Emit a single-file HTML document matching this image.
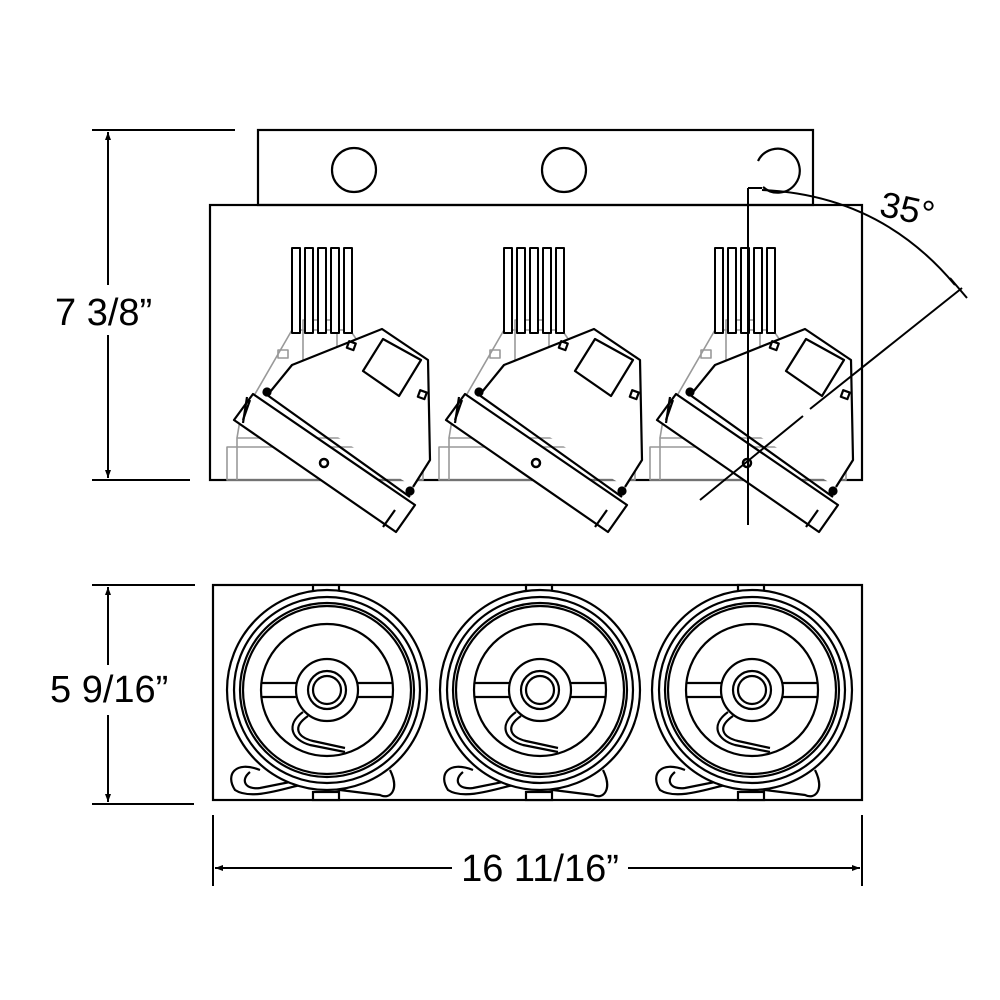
<!DOCTYPE html>
<html><head><style>body{margin:0;background:#fff}svg{display:block}</style></head>
<body>
<svg width="1000" height="1000" viewBox="0 0 1000 1000" xmlns="http://www.w3.org/2000/svg" font-family="Liberation Sans, sans-serif">
<defs>
<g id="fix" fill="none" stroke-linejoin="round">
  <g stroke="#999" stroke-width="1.6">
    <rect x="227" y="447" width="196" height="33"/>
    <line x1="237" y1="447" x2="237" y2="480"/><line x1="413" y1="447" x2="413" y2="480"/>
    <path d="M237 447 L237 438 L413 438 L413 447"/>
    <path d="M237 438 L240 420 L292 330 L350 330 L405 410 L412 438"/>
    <rect x="303" y="320" width="34" height="44"/>
    <rect x="278" y="350" width="10" height="8"/>
    <rect x="363" y="350" width="10" height="8"/>
  </g>
  <g stroke="#000" stroke-width="2" fill="#fff">
    <rect x="292" y="248" width="8" height="85"/>
    <rect x="305" y="248" width="8" height="85"/>
    <rect x="318" y="248" width="8" height="85"/>
    <rect x="331" y="248" width="8" height="85"/>
    <rect x="344" y="248" width="8" height="85"/>
  </g>
  <g stroke="#000" stroke-width="2.2">
    <path d="M270 392 L292 365 L382 329 L428 360 L430 460 L413 487" fill="#fff"/>
    <path d="M363 371 L383 339 L421 360 L399 396 Z"/>
    <rect x="348" y="342" width="7" height="7" transform="rotate(20 351 345)"/>
    <rect x="419" y="391" width="7" height="7" transform="rotate(20 422 394)"/>
    <path d="M253 394 L415 505 L396 532 L234 420 Z" fill="#fff"/>
    <line x1="263" y1="392" x2="410" y2="497"/>
    <line x1="243" y1="423" x2="247" y2="397"/>
    <line x1="250" y1="400" x2="243" y2="420"/>
    <line x1="395" y1="510" x2="383" y2="527" />
    <circle cx="267" cy="392" r="3.5" fill="#000"/>
    <circle cx="410" cy="491" r="3.5" fill="#000"/>
    <circle cx="324" cy="463" r="4" stroke-width="2.5"/>
  </g>
</g>
<g id="rnd" fill="none" stroke="#000" stroke-width="2.2">
  <rect x="313" y="585" width="26" height="8" fill="#fff"/>
  <rect x="313" y="792" width="26" height="8" fill="#fff"/>
  <path d="M260 770 C235 760 225 775 235 790 C250 800 280 790 300 785 L380 795 C390 800 400 790 390 770"/>
  <path d="M250 772 C240 780 245 790 260 788 L300 780"/>
  <circle cx="327" cy="690" r="100" fill="#fff"/>
  <circle cx="327" cy="690" r="93"/>
  <circle cx="327" cy="690" r="87"/>
  <circle cx="327" cy="690" r="84"/>
  <circle cx="327" cy="690" r="66"/>
  <line x1="261" y1="683" x2="297" y2="683"/><line x1="261" y1="697" x2="297" y2="697"/>
  <line x1="357" y1="683" x2="393" y2="683"/><line x1="357" y1="697" x2="393" y2="697"/>
  <circle cx="327" cy="690" r="31" fill="#fff"/>
  <circle cx="327" cy="690" r="19"/>
  <circle cx="327" cy="690" r="14"/>
  <path d="M303 712 C285 725 292 740 310 745 L345 752"/>
  <path d="M308 716 C292 727 297 737 313 741 L345 748"/>
</g>
</defs>

<g fill="none" stroke="#000" stroke-width="2.2">
  <rect x="258" y="130" width="555" height="75"/>
  <circle cx="354" cy="170" r="22"/>
  <circle cx="564" cy="170" r="22"/>
  <rect x="210" y="205" width="652" height="275"/>
</g>
<use href="#fix"/>
<use href="#fix" x="212"/>
<use href="#fix" x="423"/>
<g fill="#fff" stroke="#000" stroke-width="2.2">
  <path d="M758 161 A22 22 0 1 1 763 187"/>
</g>
<g fill="none" stroke="#000" stroke-width="2">
  <line x1="748" y1="188" x2="748" y2="525"/>
  <line x1="748" y1="188" x2="762" y2="188"/>
  <path d="M762 190 Q880 195 955 285"/>
  <line x1="700" y1="500" x2="803" y2="416"/>
  <line x1="810" y1="409" x2="962" y2="288"/>
  <line x1="950" y1="278" x2="967" y2="298"/>
</g>
<text x="880" y="222" font-size="36" transform="rotate(12 910 210)">35°</text>

<rect x="213" y="585" width="649" height="215" fill="none" stroke="#000" stroke-width="2.2"/>
<use href="#rnd"/>
<use href="#rnd" x="213"/>
<use href="#rnd" x="425"/>

<g stroke="#000" stroke-width="2" fill="none">
  <line x1="92" y1="130" x2="235" y2="130"/>
  <line x1="92" y1="480" x2="190" y2="480"/>
  <line x1="108" y1="132" x2="108" y2="478"/>
  <line x1="92" y1="585" x2="195" y2="585"/>
  <line x1="92" y1="804" x2="194" y2="804"/>
  <line x1="108" y1="587" x2="108" y2="802"/>
  <line x1="213" y1="815" x2="213" y2="886"/>
  <line x1="862" y1="815" x2="862" y2="886"/>
  <line x1="215" y1="868" x2="860" y2="868"/>
</g>
<g fill="#000">
  <path d="M108 132 l-3 8 h6z"/><path d="M108 478 l-3 -8 h6z"/>
  <path d="M108 587 l-3 8 h6z"/><path d="M108 802 l-3 -8 h6z"/>
  <path d="M215 868 l8 -3 v6z"/><path d="M860 868 l-8 -3 v6z"/>
</g>
<rect x="452" y="846" width="176" height="40" fill="#fff"/>
<rect x="40" y="285" width="130" height="50" fill="#fff"/>
<rect x="40" y="665" width="135" height="50" fill="#fff"/>
<g font-size="38" fill="#000">
  <text x="55" y="325">7 3/8”</text>
  <text x="50" y="702">5 9/16”</text>
  <text x="540" y="881" text-anchor="middle">16 11/16”</text>
</g>
</svg>
</body></html>
